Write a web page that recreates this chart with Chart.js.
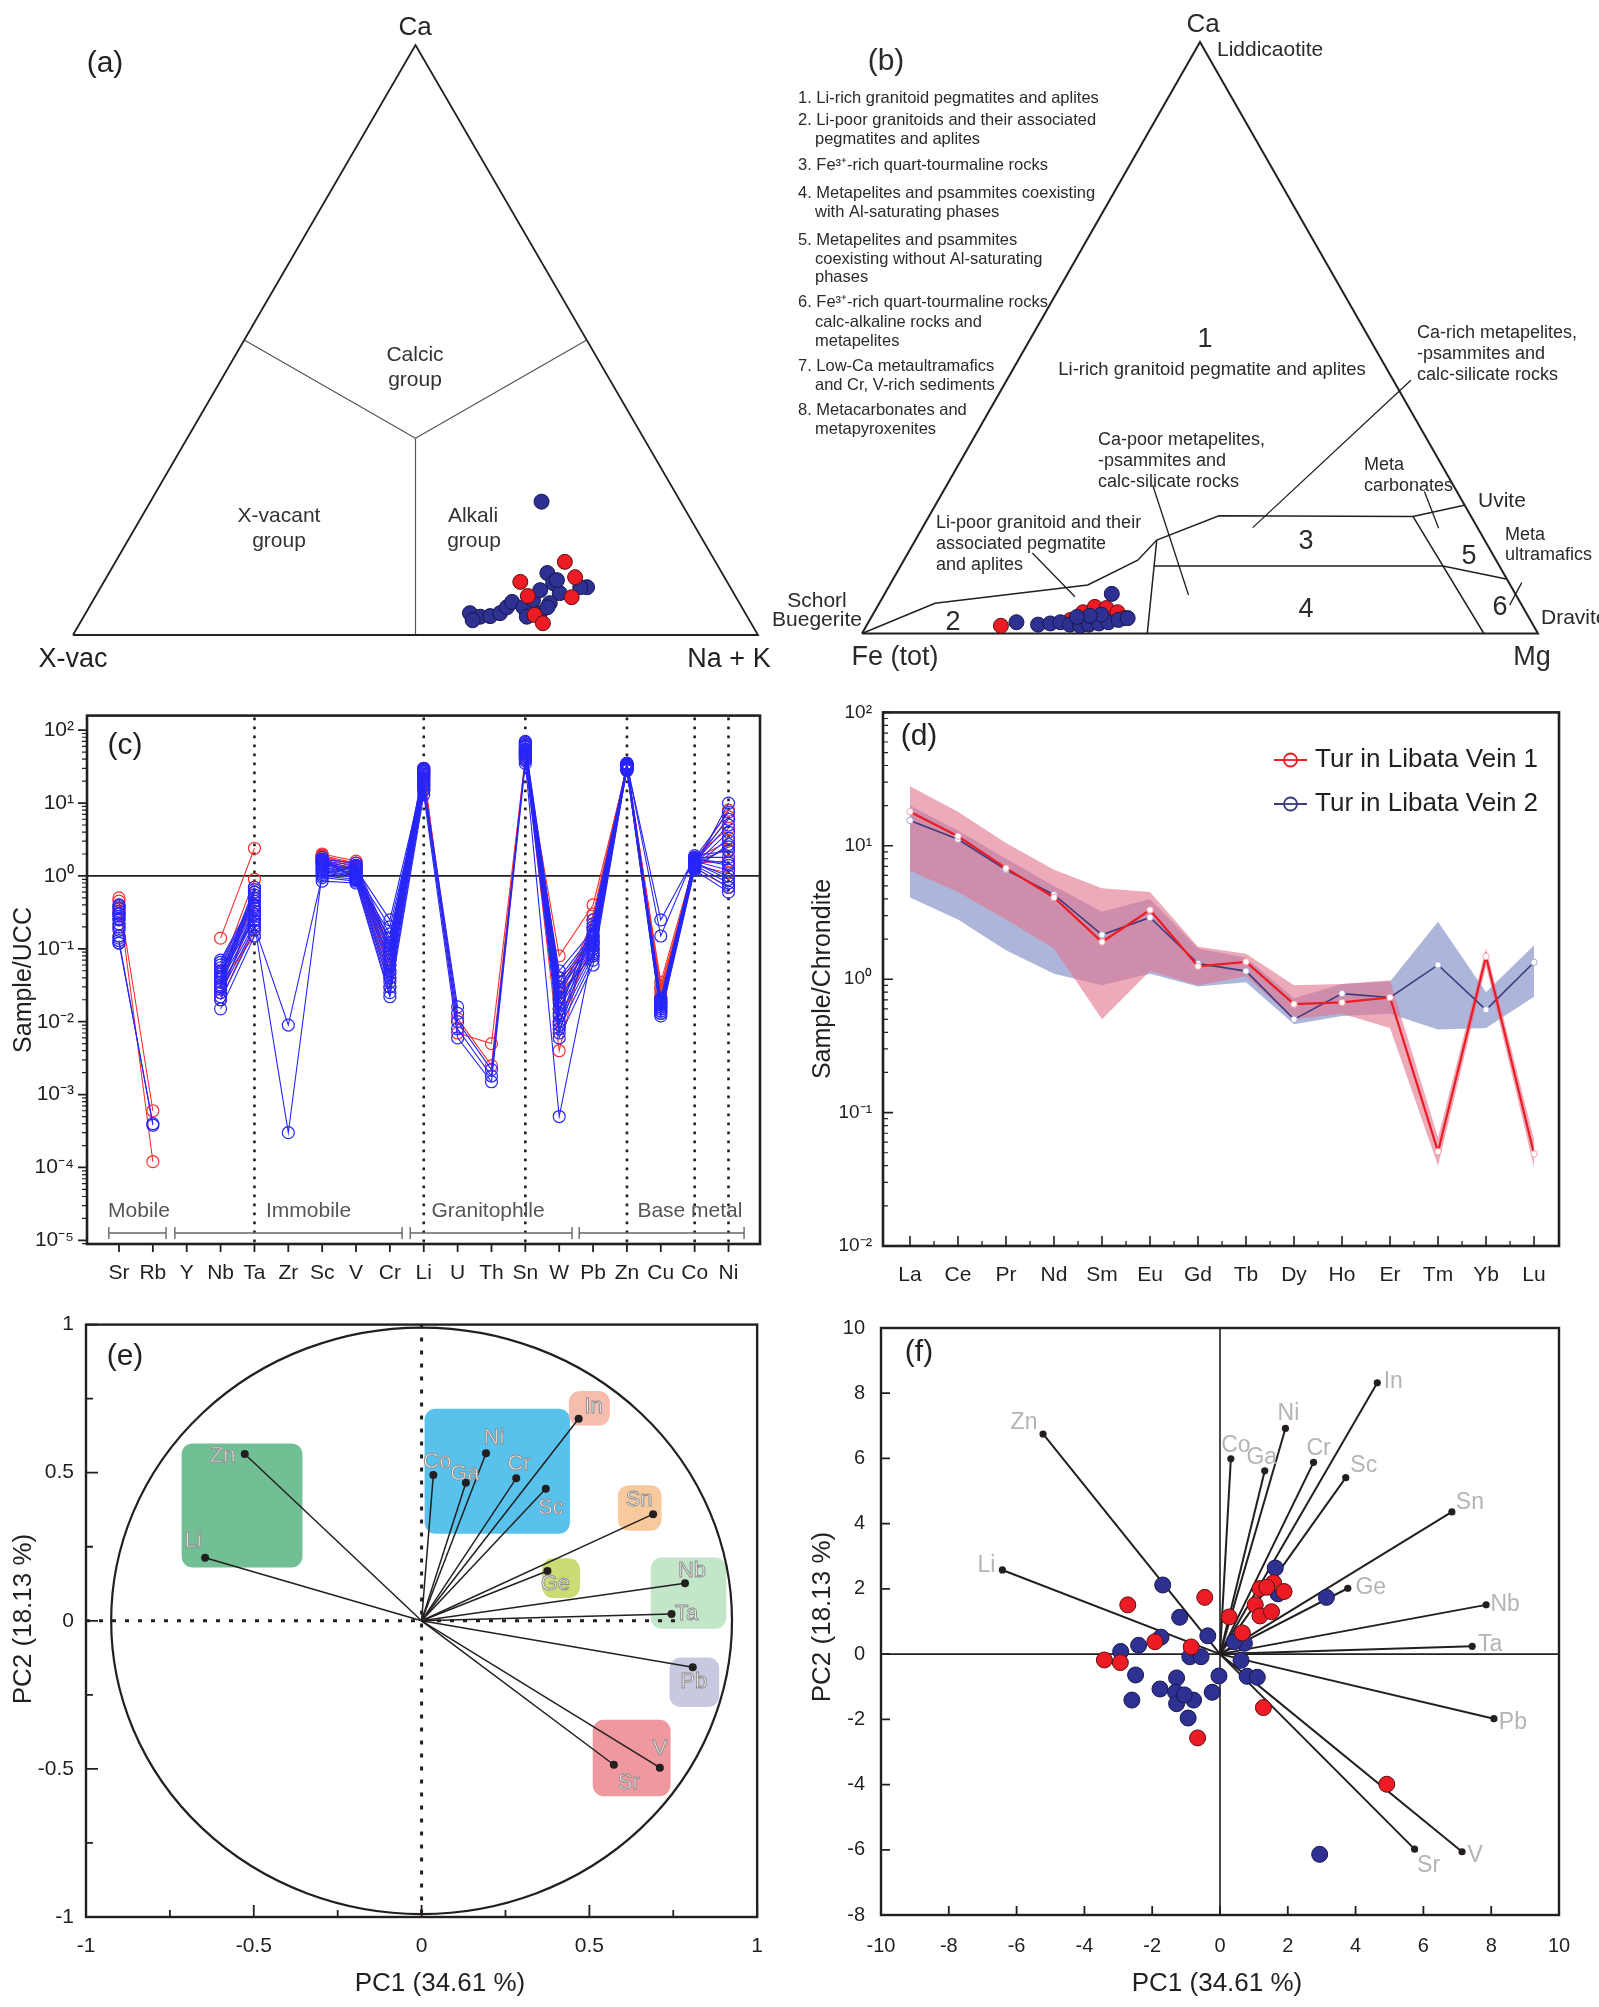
<!DOCTYPE html>
<html>
<head>
<meta charset="utf-8">
<title>Tourmaline geochemistry of the Libata veins</title>
<script src="https://cdn.jsdelivr.net/npm/chart.js@4.4.1/dist/chart.umd.min.js"></script>
<style>
  html, body { margin: 0; padding: 0; background: #fff; }
  body { position: relative; width: 1599px; height: 2007px; overflow: hidden; }
  canvas { position: absolute; }
</style>
</head>
<body>
<script>
// ---------------- (a) X-site ternary: [Na+K, Ca] atom fractions (X-vacancy = rest) ----------------
const xsiteVein1 = [
  [0.656,0.124],[0.684,0.098],[0.608,0.090],[0.631,0.066],[0.696,0.064],[0.657,0.034],[0.676,0.020]
];
const xsiteVein2 = [
  [0.571,0.226],[0.561,0.037],[0.579,0.031],[0.593,0.032],[0.605,0.037],[0.610,0.047],[0.613,0.056],
  [0.634,0.047],[0.642,0.059],[0.644,0.076],[0.640,0.105],[0.657,0.088],[0.675,0.071],[0.669,0.054],
  [0.660,0.093],[0.710,0.081],[0.700,0.081],[0.663,0.037],[0.669,0.047],[0.647,0.031],[0.571,0.025]
];

// ---------------- (b) Ca–Fe(tot)–Mg ternary: [Mg, Ca] fractions (Fe(tot) = rest) ----------------
const cfmVein1 = [
  [0.199,0.013],[0.297,0.023],[0.309,0.036],[0.322,0.045],[0.340,0.043],[0.360,0.036],[0.375,0.026],[0.313,0.017]
];
const cfmVein2 = [
  [0.219,0.019],[0.253,0.015],[0.270,0.017],[0.284,0.019],[0.300,0.015],[0.316,0.013],[0.328,0.015],
  [0.342,0.017],[0.355,0.019],[0.368,0.023],[0.380,0.026],[0.338,0.032],[0.336,0.067],[0.322,0.030],[0.304,0.028]
];

// ---------------- (c) trace elements normalised to upper continental crust ----------------
const uccElements = ['Sr','Rb','Y','Nb','Ta','Zr','Sc','V','Cr','Li','U','Th','Sn','W','Pb','Zn','Cu','Co','Ni'];
//            Sr     Rb      Y    Nb     Ta    Zr      Sc    V     Cr     Li  U      Th      Sn  W       Pb    Zn  Cu     Co   Ni
const uccVein1 = [
  [0.50, 6e-4,  null,0.14, 2.4, null,   2.0, 1.6, 0.05,  28, 0.007, 0.005,  40, 0.08,   0.40, 30, 0.030, 1.3, 0.7],
  [0.45, 1.2e-4,null,0.05, 0.9, null,   1.9, 1.5, 0.06,  25, 0.011, 0.0025, 45, 0.004,  0.30, 32, 0.025, 1.4, 1.1],
  [0.40, null,  null,0.04, 0.6, null,   1.85,1.4, 0.08,  22, null,  null,   50, 0.02,   0.25, 34, 0.020, 1.5, 1.6],
  [0.35, null,  null,0.03, 0.5, null,   1.8, 1.3, 0.10,  20, null,  null,   55, 0.015,  0.20, 28, 0.018, 1.6, 2.3],
  [0.30, null,  null,0.025,0.3, null,   1.7, 1.2, 0.12,  18, null,  null,   60, 0.03,   0.15, 31, 0.022, 1.7, 3.0],
  [0.25, null,  null,0.02, 0.2, null,   1.6, 1.1, 0.04,  15, null,  null,   65, 0.01,   0.12, 33, 0.016, 1.8, 4.5],
  [0.20, null,  null,0.035,0.15,null,   1.5, 1.0, 0.03,  30, null,  null,   42, 0.04,   0.10, 35, 0.028, 1.45,6.5],
  [0.15, null,  null,0.045,0.4, null,   1.95,0.9, 0.07,  24, null,  null,   48, 0.025,  0.08, 29, 0.035, 1.55,8.0]
];
const uccVein2 = [
  [0.12, 4e-4,  null,0.015,0.15,null,   0.85,0.8, 0.022, 13, 0.006, 0.0015, 35, 0.0005, 0.10, 28, 0.012, 1.2, 0.6],
  [0.13, 3.8e-4,null,0.02, 0.18,null,   0.95,0.85,0.025, 15, 0.008, 0.0018, 38, 0.05,   0.18, 29, 0.014, 1.3, 0.7],
  [0.15, null,  null,0.025,0.2, 0.009,  1.0, 0.9, 0.03,  17, 0.010, 0.0022, 40, 0.006,  0.06, 30, 0.015, 1.4, 0.8],
  [0.18, null,  null,0.03, 0.22,0.0003, 1.1, 0.95,0.035, 18, 0.013, null,   42, 0.008,  0.07, 31, 0.016, 1.5, 1.0],
  [0.20, null,  null,0.035,0.25,null,   1.2, 1.0, 0.04,  20, 0.016, null,   45, 0.01,   0.08, 32, 0.018, 1.6, 1.2],
  [0.22, null,  null,0.04, 0.28,null,   1.25,1.05,0.05,  22, null,  null,   48, 0.012,  0.09, 33, 0.020, 1.7, 1.5],
  [0.25, null,  null,0.045,0.3, null,   1.3, 1.1, 0.06,  24, null,  null,   50, 0.015,  0.10, 34, 0.25,  1.8, 1.8],
  [0.28, null,  null,0.05, 0.33,null,   1.4, 1.15,0.07,  25, null,  null,   52, 0.018,  0.11, 35, 0.15,  1.9, 2.2],
  [0.30, null,  null,0.055,0.36,null,   1.5, 1.2, 0.08,  26, null,  null,   55, 0.02,   0.12, 30, 0.013, 1.25,2.7],
  [0.33, null,  null,0.06, 0.4, null,   1.55,1.3, 0.09,  27, null,  null,   58, 0.025,  0.13, 31, 0.017, 1.35,3.3],
  [0.36, null,  null,0.065,0.45,null,   1.6, 1.4, 0.10,  28, null,  null,   60, 0.03,   0.14, 32, 0.019, 1.45,4.0],
  [0.40, null,  null,0.07, 0.5, null,   1.7, 1.5, 0.12,  29, null,  null,   62, 0.035,  0.15, 33, 0.014, 1.55,5.0],
  [0.12, null,  null,0.028,0.55,null,   1.8, 0.88,0.14,  30, null,  null,   65, 0.04,   0.16, 34, 0.016, 1.65,6.0],
  [0.14, null,  null,0.032,0.6, null,   1.15,0.98,0.16,  16, null,  null,   68, 0.007,  0.20, 29, 0.018, 1.75,7.5],
  [0.22, null,  null,0.038,0.65,null,   1.35,1.08,0.20,  19, null,  null,   70, 0.009,  0.22, 30, 0.013, 1.3, 10],
  [0.26, null,  null,0.042,0.7, null,   1.45,1.25,0.25,  23, null,  null,   44, 0.013,  0.25, 33, 0.015, 1.5, 0.9],
  [0.31, null,  null,0.048,0.24,null,   1.05,1.35,0.045, 21, null,  null,   53, 0.022,  0.085,35, 0.021, 1.7, 1.4],
  [0.38, null,  null,0.022,0.38,null,   1.65,0.92,0.11,  27, null,  null,   47, 0.028,  0.12, 32, 0.017, 1.4, 2.5]
];
const uccPowers = [-5,-4,-3,-2,-1,0,1,2];
const uccGuides = ['Ta','Li','Sn','Zn','Co','Ni'];
const uccGroups = [
  { name: 'Mobile',       from: -0.30, to: 1.39,  at: 0.59 },
  { name: 'Immobile',     from: 1.65,  to: 8.36,  at: 5.60 },
  { name: 'Granitophile', from: 8.60,  to: 13.38, at: 10.90 },
  { name: 'Base metal',   from: 13.59, to: 18.46, at: 16.86 }
];

// ---------------- (d) chondrite-normalised REE ----------------
const reeElements = ['La','Ce','Pr','Nd','Sm','Eu','Gd','Tb','Dy','Ho','Er','Tm','Yb','Lu'];
const reeVein1Mean = [18, 11.8, 6.8, 4.1, 1.9, 3.3, 1.25, 1.35, 0.65, 0.67, 0.73, 0.051, 1.48, 0.049];
const reeVein1Max  = [28, 18,   10.5,6.6, 4.8, 4.5, 1.75, 1.55, 0.9,  0.92, 0.98, 0.065, 1.7,  0.063];
const reeVein1Min  = [6.5,4.5,  2.8, 1.7, 0.5, 1.15,0.9,  1.05, 0.5,  0.55, 0.43, 0.04,  1.25, 0.039];
const reeVein2Mean = [15.5,11.2,6.6, 4.3, 2.15,2.9, 1.31, 1.15, 0.5,  0.78, 0.73, 1.28,  0.59, 1.34];
const reeVein2Max  = [20, 13,   8,   5,   3.2, 4.0, 1.7,  1.45, 0.72, 0.92, 0.96, 2.7,   0.8,  1.8];
const reeVein2Min  = [4.1,2.8,  1.65,1.1, 0.9, 1.1, 0.88, 0.95, 0.46, 0.53, 0.55, 0.42,  0.43, 0.74];
const reePowers = [-2,-1,0,1,2];

// ---------------- (e) PCA loadings ----------------
const loadVars = ['Zn','Li','Co','Ga','Ni','Cr','Sc','In','Sn','Ge','Nb','Ta','Pb','Sr','V'];
const loadPC1  = [-0.527,-0.645,0.035,0.132,0.192,0.282,0.370,0.468,0.690,0.375,0.785,0.745,0.808,0.573,0.710];
const loadPC2  = [0.563,0.213,0.492,0.466,0.566,0.481,0.446,0.682,0.360,0.168,0.127,0.023,-0.157,-0.486,-0.496];

// ---------------- (f) PCA biplot ----------------
const bipVars = ['Zn','Li','Co','Ga','Ni','Cr','Sc','In','Sn','Ge','Nb','Ta','Pb','Sr','V'];
const bipPC1  = [-5.22,-6.42,0.32,1.32,1.93,2.76,3.71,4.64,6.84,3.77,7.85,7.44,8.08,5.74,7.14];
const bipPC2  = [6.75,2.58,5.99,5.62,6.92,5.88,5.41,8.32,4.36,2.02,1.51,0.24,-1.98,-5.98,-6.06];
const scoresVein1 = [
  [-2.72,1.51],[-0.45,1.74],[-1.92,0.38],[-0.85,0.22],[-3.41,-0.18],[-2.94,-0.26],[0.27,1.14],[0.66,0.65],
  [1.18,2.01],[1.58,2.19],[1.89,1.92],[1.04,1.51],[1.18,1.17],[1.52,1.30],[1.28,-1.64],[-0.66,-2.57],
  [4.92,-3.99],[1.38,2.05]
];
const scoresVein2 = [
  [-1.69,2.12],[-1.19,1.13],[-1.74,0.52],[-2.40,0.27],[-2.93,0.08],[-2.49,-0.64],[-2.60,-1.41],[-1.77,-1.07],
  [-1.28,-0.73],[-1.31,-1.17],[-1.28,-1.52],[-0.78,-1.41],[-0.94,-1.96],[-0.23,-1.17],[-0.89,-0.08],[-0.56,-0.08],
  [-0.36,0.56],[-0.03,-0.67],[0.62,-0.19],[0.80,-0.68],[1.10,-0.71],[0.72,0.33],[1.63,2.64],[1.71,1.85],
  [3.14,1.74],[2.94,-6.14],[0.42,0.38],[-1.05,-1.25]
];

// =====================================================================================
const INK = '#231f20';
const FONT = "'Liberation Sans', Arial, Helvetica, sans-serif";
const RED = '#ed1c24', NAVY = '#2e3192';
Chart.defaults.font.family = FONT;
Chart.defaults.color = INK;

function canvasAt(left, top, w, h) {
  const c = document.createElement('canvas');
  c.width = w; c.height = h;
  c.style.left = left + 'px'; c.style.top = top + 'px';
  c.style.width = w + 'px'; c.style.height = h + 'px';
  document.body.appendChild(c);
  return c;
}
function baseOpts(padding, scales) {
  return {
    responsive: false, maintainAspectRatio: false, animation: false, devicePixelRatio: 1, events: [],
    layout: { padding },
    plugins: { legend: { display: false }, tooltip: { enabled: false } },
    scales
  };
}
function text(ctx, s, x, y, o = {}) {
  ctx.save();
  ctx.font = `${o.weight || 'normal'} ${o.size || 20}px ${FONT}`;
  ctx.fillStyle = o.color || INK;
  ctx.textAlign = o.align || 'center';
  ctx.textBaseline = o.base || 'middle';
  ctx.translate(x, y);
  if (o.rot) ctx.rotate(o.rot);
  ctx.fillText(s, 0, 0);
  if (o.stroke) { ctx.lineWidth = o.strokeWidth || 0.8; ctx.strokeStyle = o.stroke; ctx.strokeText(s, 0, 0); }
  ctx.restore();
}
function frame(chart, lw) {
  const { ctx, chartArea: a } = chart;
  ctx.save(); ctx.strokeStyle = INK; ctx.lineWidth = lw;
  ctx.strokeRect(a.left, a.top, a.right - a.left, a.bottom - a.top);
  ctx.restore();
}
function ticksX(chart, values, len, inward, lw) {
  const { ctx, chartArea: a, scales: { x } } = chart;
  ctx.save(); ctx.strokeStyle = INK; ctx.lineWidth = lw; ctx.beginPath();
  values.forEach(v => { const p = x.getPixelForValue(v); ctx.moveTo(p, a.bottom); ctx.lineTo(p, inward ? a.bottom - len : a.bottom + len); });
  ctx.stroke(); ctx.restore();
}
function ticksY(chart, values, len, inward, lw) {
  const { ctx, chartArea: a, scales: { y } } = chart;
  ctx.save(); ctx.strokeStyle = INK; ctx.lineWidth = lw; ctx.beginPath();
  values.forEach(v => { const p = y.getPixelForValue(v); ctx.moveTo(a.left, p); ctx.lineTo(inward ? a.left + len : a.left - len, p); });
  ctx.stroke(); ctx.restore();
}
function logMinors(min, max) {
  const out = [];
  for (let e = Math.floor(Math.log10(min)); e <= Math.ceil(Math.log10(max)); e++)
    for (let m = 2; m <= 9; m++) { const v = m * Math.pow(10, e); if (v > min && v < max) out.push(v); }
  return out;
}
const SUP = { '-': '\u207B', '0': '\u2070', '1': '\u00B9', '2': '\u00B2', '3': '\u00B3', '4': '\u2074', '5': '\u2075' };
const pow10Label = v => '10' + String(Math.round(Math.log10(v))).split('').map(c => SUP[c]).join('');
const plainNumber = v => String(Math.round(v * 100) / 100);
const noGrid = { display: false, drawTicks: false };
const lineSet = (pts, color, width, extra = {}) => Object.assign({
  data: pts, showLine: true, borderColor: color, borderWidth: width, pointRadius: 0, fill: false, clip: false
}, extra);

// ====================== (a) X-site classification ternary ======================
const ternA = (nk, ca) => ({ x: nk + ca / 2, y: ca });
const triA = [[0,0],[1,0],[0,1],[0,0]].map(p => ternA(p[0], p[1]));
const groupLinesA = [
  [[0,0.5],[1/3,1/3]], [[0.5,0.5],[1/3,1/3]], [[0.5,0],[1/3,1/3]]
].map(seg => seg.map(p => ternA(p[0], p[1])));
const textA = [
  ['(a)', 105, 64, 30], ['Ca', 415, 28, 26],
  ['Calcic', 415, 355, 21], ['group', 415, 380, 21],
  ['X-vacant', 279, 516, 21], ['group', 279, 541, 21],
  ['Alkali', 473, 516, 21], ['group', 474, 541, 21],
  ['X-vac', 73, 660, 27], ['Na + K', 729, 660, 27]
];
new Chart(canvasAt(0, 0, 780, 690), {
  type: 'scatter',
  data: { datasets: [
    { data: xsiteVein1.map(p => ternA(p[0], p[1])), pointRadius: 7.5, pointBackgroundColor: RED,
      pointBorderColor: '#5a1014', pointBorderWidth: 1, clip: false, order: 0 },
    { data: xsiteVein2.map(p => ternA(p[0], p[1])), pointRadius: 7.5, pointBackgroundColor: NAVY,
      pointBorderColor: '#15174d', pointBorderWidth: 1, clip: false, order: 1 },
    lineSet(triA, INK, 1.8, { order: 3 }),
    ...groupLinesA.map(seg => lineSet(seg, '#555', 1.2, { order: 4 }))
  ] },
  options: baseOpts({ left: 73, right: 22, top: 45, bottom: 55 }, {
    x: { type: 'linear', display: false, min: 0, max: 1 },
    y: { type: 'linear', display: false, min: 0, max: 1 }
  }),
  plugins: [{ id: 'a-text', afterDraw(chart) {
    textA.forEach(t => text(chart.ctx, t[0], t[1], t[2], { size: t[3], color: t[3] < 24 ? '#333' : INK }));
  } }]
});

// ====================== (b) Ca–Fe(tot)–Mg ternary ======================
// the canvas starts 30 px left of the panel so that the Schorl/Buegerite label fits
const B_SHIFT = 30;
const ternB = (mg, ca) => ({ x: mg + ca / 2, y: ca });
const pt = (u, v) => ({ x: u, y: v });
const triB = [[0,0],[1,0],[0.5,1],[0,0]].map(p => pt(p[0], p[1]));
const fieldLinesB = [
  [[0,0],[0.108,0.051],[0.334,0.082],[0.408,0.124],[0.436,0.158],[0.528,0.199],[0.815,0.198],[0.891,0.217]],
  [[0.436,0.158],[0.422,0]],
  [[0.432,0.114],[0.8595,0.114],[0.953,0.092]],
  [[0.815,0.198],[0.920,0]]
].map(seg => seg.map(p => pt(p[0], p[1])));
const leadersB = [
  [[0.252,0.136],[0.315,0.062]],
  [[0.430,0.251],[0.483,0.065]],
  [[0.832,0.240],[0.853,0.178]],
  [[0.976,0.086],[0.958,0.048]],
  [[0.578,0.179],[0.812,0.428]]
].map(seg => seg.map(p => pt(p[0], p[1])));
const legendListB = [
  ['1. Li-rich granitoid pegmatites and aplites', 18, 98],
  ['2. Li-poor granitoids and their associated', 18, 120],
  ['pegmatites and aplites', 35, 139],
  ['3. Fe\u00B3\u207A-rich quart-tourmaline rocks', 18, 165],
  ['4. Metapelites and psammites coexisting', 18, 193],
  ['with Al-saturating phases', 35, 212],
  ['5. Metapelites and psammites', 18, 240],
  ['coexisting without Al-saturating', 35, 259],
  ['phases', 35, 277],
  ['6. Fe\u00B3\u207A-rich quart-tourmaline rocks', 18, 302],
  ['calc-alkaline rocks and', 35, 322],
  ['metapelites', 35, 341],
  ['7. Low-Ca metaultramafics', 18, 366],
  ['and Cr, V-rich sediments', 35, 385],
  ['8. Metacarbonates and', 18, 410],
  ['metapyroxenites', 35, 429]
];
const textB = [
  ['(b)', 106, 62, 30, 'center'], ['Ca', 423, 25, 26, 'center'], ['Liddicaotite', 437, 50, 21, 'left'],
  ['1', 425, 340, 27, 'center'], ['Li-rich granitoid pegmatite and aplites', 432, 370, 18.5, 'center'],
  ['Ca-rich metapelites,', 637, 333, 18, 'left'], ['-psammites and', 637, 354, 18, 'left'], ['calc-silicate rocks', 637, 375, 18, 'left'],
  ['Ca-poor metapelites,', 318, 440, 18, 'left'], ['-psammites and', 318, 461, 18, 'left'], ['calc-silicate rocks', 318, 482, 18, 'left'],
  ['Meta', 584, 465, 18, 'left'], ['carbonates', 584, 486, 18, 'left'],
  ['Uvite', 698, 501, 21, 'left'],
  ['Meta', 725, 535, 18, 'left'], ['ultramafics', 725, 555, 18, 'left'],
  ['Dravite', 761, 618, 21, 'left'],
  ['Li-poor granitoid and their', 156, 523, 18, 'left'], ['associated pegmatite', 156, 544, 18, 'left'], ['and aplites', 156, 565, 18, 'left'],
  ['Schorl', 37, 601, 21, 'center'], ['Buegerite', 37, 620, 21, 'center'],
  ['2', 173, 623, 27, 'center'], ['3', 526, 542, 27, 'center'], ['4', 526, 610, 27, 'center'],
  ['5', 689, 557, 27, 'center'], ['6', 720, 608, 27, 'center'],
  ['Fe (tot)', 115, 658, 27, 'center'], ['Mg', 752, 658, 27, 'center']
];
new Chart(canvasAt(780 - B_SHIFT, 0, 819 + B_SHIFT, 690), {
  type: 'scatter',
  data: { datasets: [
    { data: cfmVein1.map(p => ternB(p[0], p[1])), pointRadius: 7.5, pointBackgroundColor: RED,
      pointBorderColor: '#5a1014', pointBorderWidth: 1, clip: false, order: 1 },
    { data: cfmVein2.map(p => ternB(p[0], p[1])), pointRadius: 7.5, pointBackgroundColor: NAVY,
      pointBorderColor: '#15174d', pointBorderWidth: 1, clip: false, order: 0 },
    lineSet(triB, INK, 2, { order: 3 }),
    ...fieldLinesB.map(seg => lineSet(seg, INK, 1.5, { order: 4 })),
    ...leadersB.map(seg => lineSet(seg, INK, 1.3, { order: 5 }))
  ] },
  options: baseOpts({ left: 82 + B_SHIFT, right: 61, top: 42, bottom: 56.5 }, {
    x: { type: 'linear', display: false, min: 0, max: 1 },
    y: { type: 'linear', display: false, min: 0, max: 1 }
  }),
  plugins: [{ id: 'b-text', afterDraw(chart) {
    const ctx = chart.ctx;
    ctx.save(); ctx.translate(B_SHIFT, 0);
    legendListB.forEach(t => text(ctx, t[0], t[1], t[2], { size: 16.5, align: 'left', color: '#2a2a2a' }));
    textB.forEach(t => text(ctx, t[0], t[1], t[2], { size: t[3], align: t[4], color: '#2a2a2a' }));
    ctx.restore();
  } }]
});

// ====================== (c) UCC-normalised spider diagram ======================
const uccIdx = name => uccElements.indexOf(name);
const uccSets = (rows, color, order) => rows.map(r => ({
  data: r.map((v, i) => ({ x: i, y: v })),
  borderColor: color, borderWidth: 1.1, pointRadius: 6, pointBorderWidth: 1.2,
  pointBorderColor: color, pointBackgroundColor: 'rgba(255,255,255,0)', fill: false, tension: 0, order
}));
const cMin = Math.pow(10, -5.05), cMax = Math.pow(10, 2.2);
new Chart(canvasAt(0, 690, 780, 610), {
  type: 'line',
  data: { datasets: [...uccSets(uccVein2, 'rgb(38,38,250)', 0), ...uccSets(uccVein1, 'rgb(250,48,48)', 1)] },
  options: baseOpts({ left: 0, right: 20, top: 21, bottom: 0 }, {
    x: { type: 'linear', min: -0.945, max: 18.93,
      afterBuildTicks: s => { s.ticks = uccElements.map((_, i) => ({ value: i })); },
      afterFit: s => { s.height = 56; },
      ticks: { callback: v => uccElements[v], font: { size: 21 }, color: INK, padding: 17, autoSkip: false, maxRotation: 0 },
      grid: noGrid, border: { display: false } },
    y: { type: 'logarithmic', min: cMin, max: cMax,
      afterBuildTicks: s => { s.ticks = uccPowers.map(p => ({ value: Math.pow(10, p) })); },
      afterFit: s => { s.width = 87; },
      ticks: { callback: v => pow10Label(v), font: { size: 21 }, color: INK, padding: 13, autoSkip: false },
      grid: noGrid, border: { display: false } }
  }),
  plugins: [{ id: 'c-deco',
    beforeDatasetsDraw(chart) {
      const { ctx, chartArea: a, scales: { x, y } } = chart;
      ctx.save(); ctx.strokeStyle = INK; ctx.lineWidth = 2.6; ctx.setLineDash([2.6, 6.4]);
      uccGuides.forEach(n => { const p = x.getPixelForValue(uccIdx(n)); ctx.beginPath(); ctx.moveTo(p, a.top + 2); ctx.lineTo(p, a.bottom); ctx.stroke(); });
      ctx.setLineDash([]); ctx.lineWidth = 1.8;
      const p1 = y.getPixelForValue(1); ctx.beginPath(); ctx.moveTo(a.left, p1); ctx.lineTo(a.right, p1); ctx.stroke();
      ctx.restore();
    },
    afterDraw(chart) {
      const { ctx, scales: { x } } = chart;
      frame(chart, 2.6);
      ticksX(chart, uccElements.map((_, i) => i), 8, false, 1.8);
      ticksY(chart, uccPowers.map(p => Math.pow(10, p)), 9, false, 1.8);
      ticksY(chart, logMinors(cMin, cMax), 5, false, 1.2);
      ctx.save(); ctx.strokeStyle = '#666'; ctx.lineWidth = 1.4;
      uccGroups.forEach(g => {
        const x0 = x.getPixelForValue(g.from), x1 = x.getPixelForValue(g.to), yb = 543;
        ctx.beginPath(); ctx.moveTo(x0, yb); ctx.lineTo(x1, yb);
        ctx.moveTo(x0, yb - 6); ctx.lineTo(x0, yb + 6); ctx.moveTo(x1, yb - 6); ctx.lineTo(x1, yb + 6); ctx.stroke();
        text(ctx, g.name, x.getPixelForValue(g.at), 521, { size: 21, color: '#555' });
      });
      ctx.restore();
      text(ctx, '(c)', 125, 56, { size: 30 });
      text(ctx, 'Sample/UCC', 24, 290, { size: 25, rot: -Math.PI / 2 });
    }
  }]
});

// ====================== (d) chondrite-normalised REE patterns ======================
const reePts = arr => arr.map((v, i) => ({ x: i, y: v }));
const PINK = 'rgba(226,118,142,0.62)', LAV = 'rgba(150,160,208,0.78)', VEIN2LINE = '#3b3b7e';
new Chart(canvasAt(780, 690, 819, 610), {
  type: 'line',
  data: { datasets: [
    { data: reePts(reeVein1Mean), borderColor: RED, borderWidth: 2.2, pointRadius: 3.2, pointBorderWidth: 1,
      pointBorderColor: '#f3a3a8', pointBackgroundColor: '#fff', fill: false, order: 0 },
    { data: reePts(reeVein2Mean), borderColor: VEIN2LINE, borderWidth: 1.6, pointRadius: 3.2, pointBorderWidth: 1,
      pointBorderColor: '#a9a9cc', pointBackgroundColor: '#fff', fill: false, order: 1 },
    { data: reePts(reeVein1Max), borderWidth: 0, pointRadius: 0, backgroundColor: PINK, fill: '+1', order: 2 },
    { data: reePts(reeVein1Min), borderWidth: 0, pointRadius: 0, fill: false, order: 3 },
    { data: reePts(reeVein2Max), borderWidth: 0, pointRadius: 0, backgroundColor: LAV, fill: '+1', order: 4 },
    { data: reePts(reeVein2Min), borderWidth: 0, pointRadius: 0, fill: false, order: 5 }
  ] },
  options: baseOpts({ left: 0, right: 40, top: 21, bottom: 0 }, {
    x: { type: 'linear', min: -0.5625, max: 13.52,
      afterBuildTicks: s => { s.ticks = reeElements.map((_, i) => ({ value: i })); },
      afterFit: s => { s.height = 54; },
      ticks: { callback: v => reeElements[v], font: { size: 21 }, color: INK, padding: 17, autoSkip: false, maxRotation: 0 },
      grid: noGrid, border: { display: false } },
    y: { type: 'logarithmic', min: 0.01, max: 100,
      afterBuildTicks: s => { s.ticks = reePowers.map(p => ({ value: Math.pow(10, p) })); },
      afterFit: s => { s.width = 103; },
      ticks: { callback: v => pow10Label(v), font: { size: 19 }, color: INK, padding: 11, autoSkip: false },
      grid: noGrid, border: { display: false } }
  }),
  plugins: [{ id: 'd-deco', afterDraw(chart) {
    const ctx = chart.ctx;
    frame(chart, 2.6);
    ticksX(chart, reeElements.map((_, i) => i), 10, true, 1.6);
    ticksX(chart, reeElements.slice(1).map((_, i) => i + 0.5), 5, true, 1.3);
    ticksY(chart, reePowers.map(p => Math.pow(10, p)), 10, true, 1.6);
    ticksY(chart, logMinors(0.01, 100), 5, true, 1.2);
    text(ctx, '(d)', 139, 47, { size: 30 });
    text(ctx, 'Sample/Chrondite', 43, 289, { size: 25, rot: -Math.PI / 2 });
    [[RED, 'Tur in Libata Vein 1', 70], [VEIN2LINE, 'Tur in Libata Vein 2', 114]].forEach(([c, s, yy]) => {
      ctx.save(); ctx.strokeStyle = c; ctx.lineWidth = 1.8;
      ctx.beginPath(); ctx.moveTo(494, yy); ctx.lineTo(527, yy); ctx.stroke();
      ctx.beginPath(); ctx.arc(510.5, yy, 6.5, 0, Math.PI * 2); ctx.fillStyle = '#fff'; ctx.fill(); ctx.stroke();
      ctx.beginPath(); ctx.moveTo(504, yy); ctx.lineTo(517, yy); ctx.stroke();
      ctx.restore();
      text(ctx, s, 535, yy, { size: 26, align: 'left' });
    });
  } }]
});

// ====================== (e) PCA loading plot ======================
const loadBoxes = [
  { x0: -0.715, y0: 0.599, x1: -0.355, y1: 0.180, color: 'rgba(96,182,134,0.88)' },
  { x0: 0.009,  y0: 0.716, x1: 0.442,  y1: 0.294, color: 'rgba(70,187,235,0.9)' },
  { x0: 0.439,  y0: 0.776, x1: 0.561,  y1: 0.659, color: 'rgba(244,176,160,0.85)' },
  { x0: 0.585,  y0: 0.458, x1: 0.715,  y1: 0.304, color: 'rgba(247,192,140,0.85)' },
  { x0: 0.359,  y0: 0.211, x1: 0.472,  y1: 0.077, color: 'rgba(196,216,100,0.9)' },
  { x0: 0.683,  y0: 0.214, x1: 0.908,  y1: -0.027, color: 'rgba(184,224,190,0.85)' },
  { x0: 0.739,  y0: -0.124, x1: 0.887, y1: -0.291, color: 'rgba(190,190,220,0.85)' },
  { x0: 0.510,  y0: -0.334, x1: 0.742, y1: -0.592, color: 'rgba(236,134,142,0.85)' }
];
const loadLabelOffset = {
  Zn: [-22, 2], Li: [-12, -17], Co: [4, -13], Ga: [-1, -9], Ni: [8, -15], Cr: [3, -14], Sc: [5, 19],
  In: [15, -12], Sn: [-14, -14], Ge: [8, 13], Nb: [7, -12], Ta: [15, 0], Pb: [1, 15], Sr: [15, 18], V: [0, -19]
};
const vectorSets = (xs, ys, width, dot) => xs.map((v, i) => ({
  data: [{ x: 0, y: 0 }, { x: v, y: ys[i] }], showLine: true, borderColor: INK, borderWidth: width,
  pointRadius: [0, dot], pointBackgroundColor: INK, pointBorderWidth: 0, clip: false, order: 2
}));
new Chart(canvasAt(0, 1300, 780, 707), {
  type: 'scatter',
  data: { datasets: vectorSets(loadPC1, loadPC2, 1.5, 4) },
  options: baseOpts({ left: 0, right: 20, top: 19, bottom: 0 }, {
    x: { type: 'linear', min: -1, max: 1,
      ticks: { stepSize: 0.5, callback: plainNumber, font: { size: 21 }, color: INK, padding: 17, autoSkip: false, maxRotation: 0 },
      afterFit: s => { s.height = 90; }, grid: noGrid, border: { display: false } },
    y: { type: 'linear', min: -1, max: 1,
      ticks: { stepSize: 0.5, callback: plainNumber, font: { size: 21 }, color: INK, padding: 12, autoSkip: false },
      afterFit: s => { s.width = 86; }, grid: noGrid, border: { display: false } }
  }),
  plugins: [{ id: 'e-deco',
    beforeDatasetsDraw(chart) {
      const { ctx, chartArea: a, scales: { x, y } } = chart;
      ctx.save();
      loadBoxes.forEach(b => {
        const l = x.getPixelForValue(b.x0), r = x.getPixelForValue(b.x1), t = y.getPixelForValue(b.y0), bt = y.getPixelForValue(b.y1);
        ctx.fillStyle = b.color; ctx.beginPath(); ctx.roundRect(l, t, r - l, bt - t, 11); ctx.fill();
      });
      ctx.strokeStyle = INK; ctx.lineWidth = 3; ctx.setLineDash([4, 9]);
      const x0 = x.getPixelForValue(0), y0 = y.getPixelForValue(0);
      ctx.beginPath(); ctx.moveTo(x0, a.top); ctx.lineTo(x0, a.bottom); ctx.stroke();
      ctx.beginPath(); ctx.moveTo(a.left, y0); ctx.lineTo(x.getPixelForValue(0.78), y0); ctx.stroke();
      ctx.setLineDash([]); ctx.lineWidth = 2.2;
      const rx = x.getPixelForValue(0.925) - x0, ry = y0 - y.getPixelForValue(0.99);
      ctx.beginPath(); ctx.ellipse(x0, y0, rx, ry, 0, 0, Math.PI * 2); ctx.stroke();
      ctx.restore();
    },
    afterDraw(chart) {
      const { ctx, scales: { x, y } } = chart;
      frame(chart, 2.4);
      ticksX(chart, [-1, -0.5, 0, 0.5, 1], 12, true, 1.8);
      ticksX(chart, [-0.75, -0.25, 0.25, 0.75], 7, true, 1.8);
      ticksY(chart, [-1, -0.5, 0, 0.5, 1], 12, true, 1.8);
      ticksY(chart, [-0.75, -0.25, 0.25, 0.75], 7, true, 1.8);
      loadVars.forEach((n, i) => {
        const o = loadLabelOffset[n];
        text(ctx, n, x.getPixelForValue(loadPC1[i]) + o[0], y.getPixelForValue(loadPC2[i]) + o[1],
          { size: 22, color: '#eeeeee', stroke: '#8c8c8c', strokeWidth: 0.9 });
      });
      text(ctx, '(e)', 125, 57, { size: 30 });
      text(ctx, 'PC2 (18.13 %)', 24, 319, { size: 26, rot: -Math.PI / 2 });
      text(ctx, 'PC1 (34.61 %)', 440, 684, { size: 26 });
    }
  }]
});

// ====================== (f) PCA biplot with sample scores ======================
const bipLabelOffset = {
  Zn: [-19, -11], Li: [-16, -4], Co: [5, -13], Ga: [-3, -13], Ni: [3, -15], Cr: [5, -14], Sc: [18, -12],
  In: [16, -1], Sn: [18, -9], Ge: [23, -1], Nb: [19, 0], Ta: [18, -2], Pb: [19, 4], Sr: [14, 17], V: [13, 4]
};
new Chart(canvasAt(780, 1300, 819, 707), {
  type: 'scatter',
  data: { datasets: [
    { data: scoresVein1.map(p => ({ x: p[0], y: p[1] })), pointRadius: 8, pointBackgroundColor: RED,
      pointBorderColor: '#5a1014', pointBorderWidth: 1, order: 0 },
    { data: scoresVein2.map(p => ({ x: p[0], y: p[1] })), pointRadius: 8, pointBackgroundColor: NAVY,
      pointBorderColor: '#15174d', pointBorderWidth: 1, order: 1 },
    ...vectorSets(bipPC1, bipPC2, 2, 3.6)
  ] },
  options: baseOpts({ left: 0, right: 40, top: 19, bottom: 0 }, {
    x: { type: 'linear', min: -10, max: 10, ticks: { stepSize: 2, font: { size: 20 }, color: INK, padding: 19, autoSkip: false, maxRotation: 0 },
      afterFit: s => { s.height = 92; }, grid: noGrid, border: { display: false } },
    y: { type: 'linear', min: -8, max: 10, ticks: { stepSize: 2, font: { size: 20 }, color: INK, padding: 16, autoSkip: false },
      afterFit: s => { s.width = 101; }, grid: noGrid, border: { display: false } }
  }),
  plugins: [{ id: 'f-deco',
    beforeDatasetsDraw(chart) {
      const { ctx, chartArea: a, scales: { x, y } } = chart;
      ctx.save(); ctx.strokeStyle = INK; ctx.lineWidth = 1.6;
      const x0 = x.getPixelForValue(0), y0 = y.getPixelForValue(0);
      ctx.beginPath(); ctx.moveTo(x0, a.top); ctx.lineTo(x0, a.bottom); ctx.moveTo(a.left, y0); ctx.lineTo(a.right, y0); ctx.stroke();
      ctx.restore();
    },
    afterDraw(chart) {
      const { ctx, scales: { x, y } } = chart;
      frame(chart, 2.4);
      ticksX(chart, [-8, -6, -4, -2, 0, 2, 4, 6, 8], 9, true, 1.8);
      ticksY(chart, [-6, -4, -2, 0, 2, 4, 6, 8], 9, true, 1.8);
      bipVars.forEach((n, i) => {
        const o = bipLabelOffset[n];
        text(ctx, n, x.getPixelForValue(bipPC1[i]) + o[0], y.getPixelForValue(bipPC2[i]) + o[1], { size: 23, color: '#b4b4b4' });
      });
      text(ctx, '(f)', 139, 53, { size: 30 });
      text(ctx, 'PC2 (18.13 %)', 43, 317, { size: 26, rot: -Math.PI / 2 });
      text(ctx, 'PC1 (34.61 %)', 437, 684, { size: 26 });
    }
  }]
});
</script>
</body>
</html>
